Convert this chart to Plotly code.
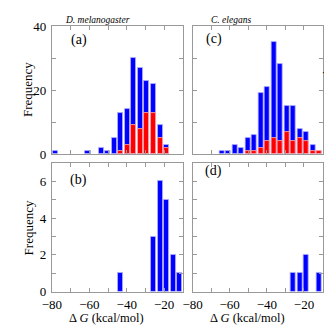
import plotly.graph_objects as go

# %% Data: histogram of folding free energy, bins of 3.5 kcal/mol from -80 to -10
dG_bins = [-78.25, -74.75, -71.25, -67.75, -64.25, -60.75, -57.25, -53.75,
           -50.25, -46.75, -43.25, -39.75, -36.25, -32.75, -29.25, -25.75,
           -22.25, -18.75, -15.25, -11.75]

# D. melanogaster canonical pre-miRNAs (all, and red subset)
dm_canon_all = [1, 0, 0, 0, 0, 1, 0, 2, 1, 5, 13, 14, 30, 27, 23, 22, 9, 3, 0, 0]
dm_canon_sub = [0, 0, 0, 0, 0, 0, 0, 0, 0, 0, 1, 3, 9, 8, 13, 13, 5, 2, 0, 0]
# C. elegans canonical pre-miRNAs
ce_canon_all = [0, 0, 0, 0, 1, 1, 3, 2, 5, 6, 19, 21, 35, 28, 15, 15, 8, 7, 3, 1]
ce_canon_sub = [0, 0, 0, 0, 0, 0, 0, 0, 1, 1, 2, 4, 5, 4, 7, 4, 5, 4, 1, 1]
# mirtrons
dm_mirtron = [0, 0, 0, 0, 0, 0, 0, 0, 0, 0, 1, 0, 0, 0, 0, 3, 6, 5, 2, 1]
ce_mirtron = [0, 0, 0, 0, 0, 0, 0, 0, 0, 0, 0, 0, 0, 0, 0, 1, 1, 2, 0, 1]

W, H = 332, 325
FONT = 'Liberation Serif'
BAR_W = 2.7


def px(x):
    return x / W


def py(y):
    return 1 - y / H


fig = go.Figure()


def add_bars(vals, color, line, xa, ya):
    # empty bins are left out so no outline is drawn for them
    fig.add_trace(go.Bar(x=dG_bins, y=[v if v else None for v in vals],
                         width=BAR_W, marker_color=color,
                         marker_line=dict(color=line, width=0.8),
                         xaxis=xa, yaxis=ya, showlegend=False))


add_bars(dm_canon_all, '#0000ff', '#b0b0ff', 'x', 'y')
add_bars(dm_canon_sub, '#ff0000', '#ffb0b0', 'x', 'y')
add_bars(ce_canon_all, '#0000ff', '#b0b0ff', 'x2', 'y2')
add_bars(ce_canon_sub, '#ff0000', '#ffb0b0', 'x2', 'y2')
add_bars(dm_mirtron, '#0000ff', '#b0b0ff', 'x3', 'y3')
add_bars(ce_mirtron, '#0000ff', '#b0b0ff', 'x4', 'y4')

xdom_l = [px(35), px(170)]
xdom_r = [px(180), px(314)]
ydom_t = [py(146), py(11.5)]
ydom_b = [py(290), py(155)]

axis_common = dict(showline=True, linecolor='#999999', linewidth=1,
                   mirror='ticks', ticks='inside', ticklen=4,
                   tickcolor='#999999', showgrid=False, zeroline=False,
                   tickfont=dict(family=FONT, size=13, color='black'))

xcfg = dict(axis_common, range=[-80, -10], dtick=20, tick0=-80,
            ticklabelstandoff=1,
            minor=dict(dtick=10, ticks='inside', ticklen=4,
                       tickcolor='#999999'))
ytop = dict(axis_common, range=[0, 40], dtick=20, ticklabelstandoff=2,
            minor=dict(dtick=10, ticks='inside', ticklen=4,
                       tickcolor='#999999'))
ybot = dict(axis_common, range=[0, 7], dtick=2, ticklabelstandoff=2,
            minor=dict(dtick=1, ticks='inside', ticklen=4,
                       tickcolor='#999999'))

fig.update_layout(
    width=W, height=H, margin=dict(l=0, r=0, t=0, b=0),
    paper_bgcolor='white', plot_bgcolor='white',
    barmode='overlay', bargap=0,
    xaxis=dict(xcfg, domain=xdom_l, anchor='y', showticklabels=False),
    yaxis=dict(ytop, domain=ydom_t, anchor='x'),
    xaxis2=dict(xcfg, domain=xdom_r, anchor='y2', showticklabels=False),
    yaxis2=dict(ytop, domain=ydom_t, anchor='x2', showticklabels=False),
    xaxis3=dict(xcfg, domain=xdom_l, anchor='y3'),
    yaxis3=dict(ybot, domain=ydom_b, anchor='x3'),
    xaxis4=dict(xcfg, domain=xdom_r, anchor='y4'),
    yaxis4=dict(ybot, domain=ydom_b, anchor='x4', showticklabels=False),
)


def note(text, x, y, size, angle=0):
    fig.add_annotation(text=text, x=px(x), y=py(y), xref='paper',
                       yref='paper', showarrow=False, textangle=angle,
                       xanchor='center', yanchor='middle', borderpad=0,
                       font=dict(family=FONT, size=size, color='black'))


note('<i>D. melanogaster</i>', 82, 5, 9.5)
note('<i>C. elegans</i>', 220, 5, 9.5)
note('(a)', 63, 26, 14)
note('(c)', 202, 25, 14)
note('(b)', 62, 173, 14)
note('(d)', 202, 164, 14)
note('Frequency', 10, 78, 13, -90)
note('Frequency', 11, 223, 13, -90)
note('Canonical pre-miRNAs', 320, 64, 9, 90)
note('mirtrons', 319, 212, 9, 90)
note('\u0394 <i>G</i> (kcal/mol)', 91, 318, 12.5)
note('\u0394 <i>G</i> (kcal/mol)', 237, 318, 12.5)

fig.write_html("out.html")
